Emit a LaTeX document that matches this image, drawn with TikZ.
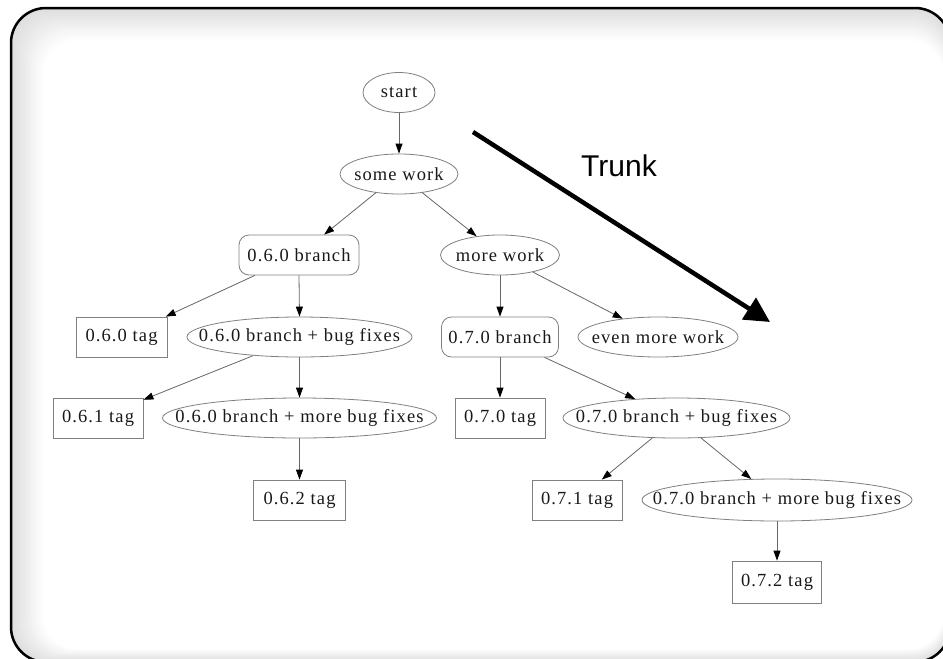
\documentclass[tikz,border=0pt]{standalone}
\usepackage{fontspec}
\setmainfont{Liberation Serif}[LetterSpace=6]
\newfontfamily\trunkfont{Liberation Sans}
\usetikzlibrary{arrows.meta,shapes.geometric}
\newcommand{\zw}[1]{\makebox[0pt]{#1}}
\begin{document}
\begin{tikzpicture}[x=1pt,y=-1pt,
  every node/.style={inner sep=0pt, text=black!90, font=\fontsize{18.5}{21}\selectfont},
  oval/.style={ellipse, draw=black!50, line width=0.8pt, minimum height=40pt},
  tagbox/.style={rectangle, draw=black!50, line width=0.8pt, minimum width=90pt, minimum height=40pt},
  branchbox/.style={rectangle, rounded corners=10pt, draw=black!50, line width=0.8pt, minimum height=40pt},
  edge/.style={draw=black!60, line width=0.8pt, -{Triangle[length=10pt,width=7pt,fill=black,color=black]}},
  trunk/.style={draw=black, line width=4.5pt, -{Triangle[length=25pt,width=25pt]}}
]
\useasboundingbox (0,0) rectangle (943,659);
\clip (0,0) rectangle (943,659);
% frame with inner shadow
\foreach \i in {0,...,16}{
  \pgfmathsetmacro\c{13*(1-\i/16)}
  \fill[black!\c, rounded corners=35pt] (11+2*\i, 8+2*\i) rectangle (950-0.4*\i, 662-0.8*\i);
}
\draw[black, line width=2.5pt, rounded corners=35pt] (11,8) rectangle (950,662);

% nodes
\node[oval, minimum width=72pt] (start) at (399,92.5) {\zw{start}};
\node[oval, minimum width=118pt] (sw) at (399,174) {\zw{some work}};
\node[branchbox, minimum width=120pt] (b060) at (299,255) {\zw{0.6.0 branch}};
\node[oval, minimum width=119pt] (mw) at (500,255) {\zw{more work}};
\node[tagbox, minimum width=91pt] (t060) at (121.5,337) {\zw{0.6.0 tag}};
\node[oval, minimum width=225pt] (bf060) at (299.5,337) {\zw{0.6.0 branch + bug fixes}};
\node[branchbox, minimum width=117pt] (b070) at (500,337) {\zw{0.7.0 branch}};
\node[oval, minimum width=160pt] (emw) at (658,337) {\zw{even more work}};
\node[tagbox] (t061) at (98,418) {\zw{0.6.1 tag}};
\node[oval, minimum width=274pt] (mbf060) at (299.5,418) {\zw{0.6.0 branch + more bug fixes}};
\node[tagbox] (t070) at (500,418) {\zw{0.7.0 tag}};
\node[oval, minimum width=227pt] (bf070) at (676.5,418) {\zw{0.7.0 branch + bug fixes}};
\node[tagbox, minimum width=92pt] (t062) at (299.5,500) {\zw{0.6.2 tag}};
\node[tagbox] (t071) at (577,500) {\zw{0.7.1 tag}};
\node[oval, minimum width=270pt, minimum height=42pt] (mbf070) at (777,500) {\zw{0.7.0 branch + more bug fixes}};
\node[tagbox, minimum width=89pt, minimum height=42pt] (t072) at (777,582) {\zw{0.7.2 tag}};

% edges
\draw[edge] (start) -- (sw);
\draw[edge] (sw) -- (b060);
\draw[edge] (sw) -- (mw);
\draw[edge] (b060) -- (t060);
\draw[edge] (b060.south) -- (bf060.north);
\draw[edge] (mw.south) -- (b070.north);
\draw[edge] (mw) -- (emw);
\draw[edge] (bf060) -- (t061);
\draw[edge] (bf060.south) -- (mbf060.north);
\draw[edge] (b070.south) -- (t070.north);
\draw[edge] (b070) -- (bf070);
\draw[edge] (mbf060.south) -- (t062.north);
\draw[edge] (bf070) -- (t071);
\draw[edge] (bf070) -- (mbf070);
\draw[edge] (mbf070.south) -- (t072.north);

% trunk arrow
\coordinate (trunkA) at (473,132);
\coordinate (trunkB) at (770,322);
\draw[trunk] (trunkA) -- (trunkB);
\node[font=\trunkfont\fontsize{30}{34}\selectfont, text=black] (trunklbl) at (619,166) {Trunk};
\end{tikzpicture}
\end{document}
